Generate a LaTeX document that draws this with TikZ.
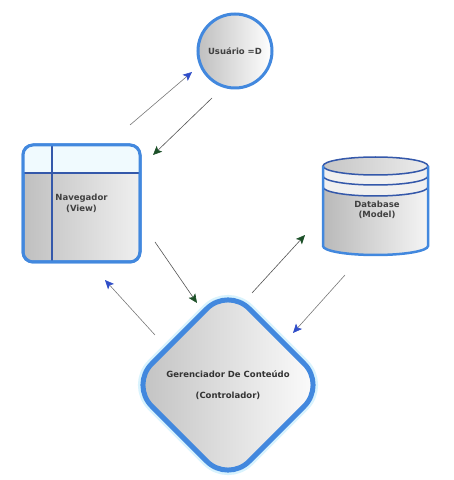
\documentclass[tikz,border=0pt]{standalone}
\usepackage{fontspec}
\setmainfont{DejaVu Sans}
\usetikzlibrary{shapes.geometric,arrows.meta}
\definecolor{boxblue}{RGB}{66,136,222}
\definecolor{lineblue}{RGB}{52,88,170}
\definecolor{tipblue}{RGB}{48,78,200}
\definecolor{tipgreen}{RGB}{28,80,40}
\definecolor{linegray}{RGB}{120,120,120}
\tikzset{
  lbltext/.style={font=\fontsize{8.5}{10.5}\selectfont\bfseries, text=black!75, align=center},
  shapebox/.style={draw=boxblue, line width=3pt, left color=gray!50, right color=white, inner sep=0pt, outer sep=0pt},
  flowblue/.style={draw=linegray, line width=0.6pt, -{Stealth[length=9pt,width=8pt,inset=2pt,color=tipblue]}},
  flowgreen/.style={draw=linegray!70!black, line width=0.6pt, -{Stealth[length=9pt,width=8pt,inset=2pt,color=tipgreen]}}
}
\begin{document}
\begin{tikzpicture}[x=1pt,y=1pt]
    \useasboundingbox (0,0) rectangle (454,480);
    % usuario
    \node[shapebox, lbltext, circle, minimum size=74pt] (user) at (235,429) {Usuário =D};
    % navegador
    \node[shapebox, lbltext, rectangle, rounded corners=10pt, right color=gray!12,
          minimum width=117pt, minimum height=117pt] (nav) at (81.5,276.5) {Navegador\\(View)};
    \begin{scope}
        \clip[rounded corners=10pt] (nav.south west) rectangle (nav.north east);
        \fill[white!94!cyan] (nav.north west) rectangle ([yshift=-28pt]nav.north east);
        \draw[lineblue, line width=2.5pt] ([xshift=29pt]nav.north west) -- ([xshift=29pt]nav.south west);
        \draw[lineblue, line width=2.5pt] ([yshift=-28pt]nav.north west) -- ([yshift=-28pt]nav.north east);
    \end{scope}
    \draw[boxblue, line width=3pt, rounded corners=10pt] (nav.south west) rectangle (nav.north east);
    % database
    \fill[left color=gray!55, right color=gray!8] (323,314) -- (323,234) arc (180:360:52.5 and 9)
        -- (428,314) arc (0:180:52.5 and 9) -- cycle;
    \fill[gray!12] (323,314) arc (180:360:52.5 and 9) -- (428,293) arc (360:180:52.5 and 9) -- cycle;
    \fill[left color=gray!45, right color=gray!15] (375.5,314) ellipse (52.5 and 9);
    \draw[lineblue, line width=1.5pt] (375.5,314) ellipse (52.5 and 9);
    \draw[lineblue, line width=1.5pt] (323,304) arc (180:360:52.5 and 9);
    \draw[lineblue, line width=1.5pt] (323,293) arc (180:360:52.5 and 9);
    \draw[boxblue, line width=2.5pt] (323,314) -- (323,234) arc (180:360:52.5 and 9) -- (428,314);
    \node[lbltext] (db) at (377,270) {Database\\(Model)};
    % controlador
    \node[shapebox, lbltext, diamond, aspect=1, minimum size=195pt, rounded corners=30pt,
          line width=5pt, text=black!80, preaction={draw=cyan!15, line width=10pt}]
          (ctrl) at (228,95) {Gerenciador De Conteúdo\\[10pt](Controlador)};
    % setas
    \coordinate (a1s) at (130,355);
    \coordinate (a1e) at (192,408);
    \coordinate (a2s) at (212,382);
    \coordinate (a2e) at (153,325);
    \coordinate (a3s) at (155,238);
    \coordinate (a3e) at (197,177);
    \coordinate (a4s) at (155,145);
    \coordinate (a4e) at (105,200);
    \coordinate (a5s) at (252,187);
    \coordinate (a5e) at (305,245);
    \coordinate (a6s) at (345,205);
    \coordinate (a6e) at (293,147);
    \draw[flowblue] (a1s) -- (a1e);
    \draw[flowgreen] (a2s) -- (a2e);
    \draw[flowgreen] (a3s) -- (a3e);
    \draw[flowblue] (a4s) -- (a4e);
    \draw[flowgreen] (a5s) -- (a5e);
    \draw[flowblue] (a6s) -- (a6e);
\end{tikzpicture}
\end{document}
